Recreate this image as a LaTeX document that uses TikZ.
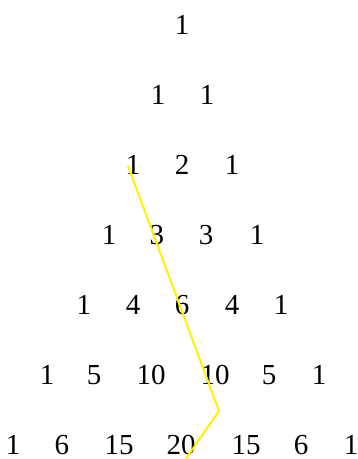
\documentclass[tikz,border=0pt]{standalone}
\usepackage{fontspec}
\setmainfont{Liberation Serif}
\begin{document}
\begin{tikzpicture}[x=1pt,y=-1pt,
  num/.style={anchor=base,inner sep=0pt,font=\fontsize{29}{29}\selectfont},
  path/.style={draw=yellow,line width=2pt}]
\useasboundingbox (0,0) rectangle (358,459);
% row 1
\node[num] (r1a) at (182,34) {1};
% row 2
\node[num] (r2a) at (158,104) {1};
\node[num] (r2b) at (207,104) {1};
% row 3
\node[num] (r3a) at (133,174) {1};
\node[num] (r3b) at (182,174) {2};
\node[num] (r3c) at (232,174) {1};
% row 4
\node[num] (r4a) at (109,244) {1};
\node[num] (r4b) at (157,244) {3};
\node[num] (r4c) at (206,244) {3};
\node[num] (r4d) at (257,244) {1};
% row 5
\node[num] (r5a) at (84,314) {1};
\node[num] (r5b) at (133,314) {4};
\node[num] (r5c) at (182,314) {6};
\node[num] (r5d) at (232,314) {4};
\node[num] (r5e) at (281,314) {1};
% row 6
\node[num] (r6a) at (47,384) {1};
\node[num] (r6b) at (94,384) {5};
\node[num] (r6c) at (151,384) {10};
\node[num] (r6d) at (215,384) {10};
\node[num] (r6e) at (269,384) {5};
\node[num] (r6f) at (319,384) {1};
% row 7
\node[num] (r7a) at (13,454) {1};
\node[num] (r7b) at (62,454) {6};
\node[num] (r7c) at (119,454) {15};
\node[num] (r7d) at (181,454) {20};
\node[num] (r7e) at (246,454) {15};
\node[num] (r7f) at (301,454) {6};
\node[num] (r7g) at (351,454) {1};
% yellow path
\coordinate (ya) at (128,166);
\coordinate (yb) at (219,411);
\coordinate (yc) at (185,460);
\draw[path] (ya) -- (yb) -- (yc);
\end{tikzpicture}
\end{document}
